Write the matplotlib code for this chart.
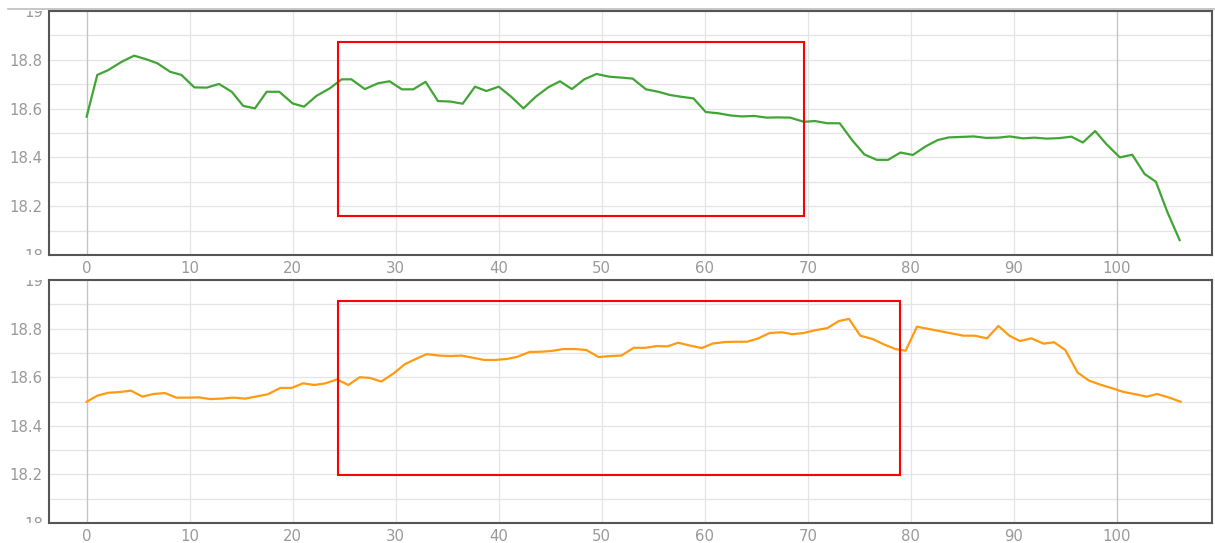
# -*- coding: utf-8 -*-
"""Two stacked line panels with highlighted windows (red boxes)."""

import matplotlib

matplotlib.use("Agg")

import matplotlib.pyplot as plt
import matplotlib.transforms as mtransforms
from matplotlib.lines import Line2D
from matplotlib.patches import Rectangle


# =============================================================================
# Data
# =============================================================================

TOP_X = [
    0, 1.03, 2.1, 3.4, 4.6, 5.8, 6.85, 8.1, 9.2, 10.45,
    11.65, 12.85, 14.08, 15.2, 16.34, 17.47, 18.7, 20.0, 21.1, 22.3,
    23.6, 24.75, 25.7, 27.0, 28.3, 29.4, 30.6, 31.7, 32.9, 34.1,
    35.3, 36.5, 37.7, 38.8, 40.0, 41.2, 42.4, 43.6, 44.8, 45.95,
    47.1, 48.3, 49.5, 50.7, 51.9, 53.0, 54.3, 55.5, 56.6, 57.8,
    58.9, 60.1, 61.3, 62.5, 63.6, 64.8, 66.0, 67.1, 68.3, 69.6,
    70.7, 71.9, 73.1, 74.3, 75.5, 76.7, 77.8, 79.0, 80.2, 81.4,
    82.6, 83.7, 84.95, 86.1, 87.3, 88.5, 89.6, 90.9, 92.0, 93.2,
    94.4, 95.6, 96.7, 97.9, 99.0, 100.3, 101.5, 102.7, 103.8, 104.9,
    106.1,
]
TOP_Y = [
    18.567, 18.738, 18.758, 18.792, 18.817, 18.802, 18.786, 18.751, 18.738, 18.687,
    18.686, 18.701, 18.669, 18.611, 18.601, 18.669, 18.669, 18.621, 18.608, 18.652,
    18.683, 18.720, 18.720, 18.680, 18.704, 18.712, 18.679, 18.679, 18.710, 18.631,
    18.629, 18.620, 18.690, 18.672, 18.690, 18.649, 18.601, 18.649, 18.687, 18.712,
    18.680, 18.720, 18.742, 18.731, 18.727, 18.723, 18.679, 18.669, 18.656, 18.648,
    18.642, 18.586, 18.581, 18.572, 18.568, 18.570, 18.563, 18.564, 18.563, 18.546,
    18.549, 18.540, 18.540, 18.471, 18.412, 18.390, 18.390, 18.420, 18.410, 18.444,
    18.471, 18.482, 18.484, 18.486, 18.480, 18.481, 18.486, 18.478, 18.481, 18.477,
    18.479, 18.485, 18.461, 18.508, 18.454, 18.400, 18.411, 18.332, 18.300, 18.177,
    18.061,
]

BOTTOM_X = [
    0, 1.03, 2.1, 3.23, 4.3, 5.4, 6.5, 7.6, 8.7, 9.9,
    10.9, 12.0, 13.1, 14.2, 15.4, 16.5, 17.6, 18.8, 19.9, 21.0,
    22.1, 23.2, 24.3, 25.4, 26.5, 27.5, 28.6, 29.8, 30.9, 31.9,
    33.0, 34.2, 35.3, 36.4, 37.5, 38.6, 39.6, 40.8, 41.8, 43.0,
    44.1, 45.1, 46.3, 47.4, 48.5, 49.7, 50.8, 51.9, 53.1, 54.2,
    55.3, 56.4, 57.4, 58.6, 59.7, 60.8, 62.0, 63.1, 64.1, 65.2,
    66.3, 67.5, 68.5, 69.6, 70.8, 71.9, 73.0, 74.0, 75.1, 76.3,
    77.4, 78.5, 79.5, 80.6, 85.1, 86.2, 87.4, 88.5, 89.6, 90.6,
    91.7, 92.9, 93.9, 95.0, 96.2, 97.3, 98.5, 99.6, 100.6, 101.8,
    102.9, 103.9, 105.1, 106.2,
]
BOTTOM_Y = [
    18.499, 18.524, 18.536, 18.539, 18.545, 18.520, 18.531, 18.535, 18.516, 18.516,
    18.517, 18.510, 18.512, 18.516, 18.512, 18.521, 18.530, 18.556, 18.556, 18.575,
    18.568, 18.575, 18.591, 18.568, 18.600, 18.597, 18.582, 18.616, 18.654, 18.674,
    18.695, 18.689, 18.687, 18.689, 18.680, 18.671, 18.671, 18.675, 18.684, 18.704,
    18.705, 18.708, 18.716, 18.716, 18.712, 18.683, 18.687, 18.689, 18.721, 18.721,
    18.728, 18.727, 18.742, 18.730, 18.720, 18.739, 18.745, 18.746, 18.746, 18.760,
    18.782, 18.785, 18.777, 18.782, 18.794, 18.802, 18.831, 18.840, 18.771, 18.757,
    18.735, 18.716, 18.709, 18.808, 18.771, 18.771, 18.760, 18.811, 18.770, 18.749,
    18.760, 18.738, 18.744, 18.712, 18.619, 18.586, 18.568, 18.554, 18.540, 18.530,
    18.520, 18.531, 18.516, 18.499,
]

X_TICKS = [0, 10, 20, 30, 40, 50, 60, 70, 80, 90, 100]
Y_TICKS = [18.0, 18.2, 18.4, 18.6, 18.8, 19.0]
Y_TICK_LABELS = ["18", "18.2", "18.4", "18.6", "18.8", "19"]
Y_MINOR_TICKS = [18.1, 18.3, 18.5, 18.7, 18.9]

# highlighted windows: (x0, y0, x1, y1) in data units
TOP_BOX = (24.4, 18.16, 69.6, 18.873)
BOTTOM_BOX = (24.4, 18.198, 78.96, 18.914)


# =============================================================================
# Settings
# =============================================================================

TOP_COLOR = "#41a535"
BOTTOM_COLOR = "#ff9a12"
BOX_COLOR = "#ff0000"
SPINE_COLOR = "#555555"
GRID_COLOR = "#e4e4e4"
GRID_DARK = "#c4c4c4"
LABEL_COLOR = "#999999"

XLIM = (-3.66, 109.25)
YLIM = (18.0, 19.0)


def style_axes(fig, ax, series_x, series_y, color, box):
    ax.plot(series_x, series_y, color=color, linewidth=1.6, zorder=3)

    x0, y0, x1, y1 = box
    ax.add_patch(
        Rectangle(
            (x0, y0), x1 - x0, y1 - y0,
            fill=False, edgecolor=BOX_COLOR, linewidth=1.5, zorder=4,
        )
    )

    ax.set_xlim(*XLIM)
    ax.set_ylim(*YLIM)
    ax.set_xticks(X_TICKS)
    ax.set_yticks(Y_TICKS)
    ax.set_yticklabels(Y_TICK_LABELS)
    ax.set_yticks(Y_MINOR_TICKS, minor=True)

    ax.set_axisbelow(True)
    ax.grid(True, which="both", color=GRID_COLOR, linewidth=0.9)
    for xv in (0, 100):
        ax.axvline(xv, color=GRID_DARK, linewidth=0.9, zorder=1)

    ax.tick_params(which="both", length=0, colors=LABEL_COLOR, labelsize=10.7)
    ax.tick_params(axis="y", pad=4.5)
    ax.tick_params(axis="x", pad=4.0)

    for spine in ax.spines.values():
        spine.set_color(SPINE_COLOR)
        spine.set_linewidth(1.5)

    # the 18 / 19 labels are cut by the panel edges, as in the screenshot
    pos = ax.get_position()
    clip = mtransforms.TransformedBbox(
        mtransforms.Bbox([[0, pos.y0], [1, pos.y1]]), fig.transFigure
    )
    for tick in ax.yaxis.get_major_ticks():
        tick.label1.set_clip_box(clip)
        tick.label1.set_clip_on(True)


def main():
    plt.rcParams.update(
        {
            "font.family": "DejaVu Sans",
            "font.size": 10.7,
        }
    )

    fig = plt.figure(figsize=(12.15, 5.43), dpi=100)

    ax_top = fig.add_axes([0.0403, 0.5304, 0.9573, 0.4493])
    ax_bottom = fig.add_axes([0.0403, 0.0368, 0.9573, 0.4475])

    style_axes(fig, ax_top, TOP_X, TOP_Y, TOP_COLOR, TOP_BOX)
    style_axes(fig, ax_bottom, BOTTOM_X, BOTTOM_Y, BOTTOM_COLOR, BOTTOM_BOX)

    # thin light rule above the upper panel
    fig.add_artist(
        Line2D(
            [8 / 1215, 1.0], [1 - 8.5 / 543, 1 - 8.5 / 543],
            transform=fig.transFigure, color="#bdbdbd", linewidth=1.2,
        )
    )

    fig.savefig("out.png", dpi=100)
    plt.close(fig)


if __name__ == "__main__":
    main()
